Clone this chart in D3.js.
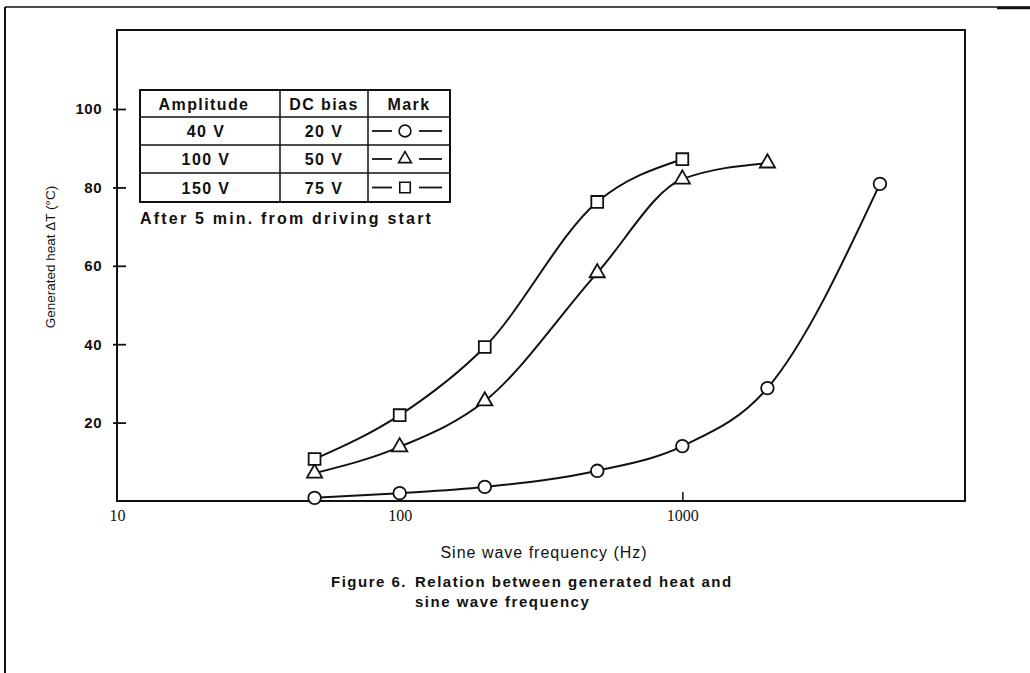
<!DOCTYPE html>
<html>
<head>
<meta charset="utf-8">
<script src="https://cdn.jsdelivr.net/npm/d3@7"></script>
<style>
body{margin:0;background:#fff;}
svg text{fill:#111;}
</style>
</head>
<body>
<svg id="chart" width="1030" height="673"></svg>
<script>
// values
var freqs = [50,100,200,500,1000,2000,5000];
var heat40 = [0.8,2.0,3.6,7.7,14.0,28.8,80.9];   // 40 V amp / 20 V bias  (circles)
var heat100 = [7.1,13.8,25.5,58.2,82.1,86.2];    // 100 V / 50 V (triangles)
var heat150 = [10.7,21.9,39.3,76.3,87.2];        // 150 V / 75 V (squares)
var xTicks = [10,100,1000];
var yTicks = [20,40,60,80,100];
var legendHeader = ["Amplitude","DC bias","Mark"];
var legendAmp = ["40 V","100 V","150 V"];
var legendBias = ["20 V","50 V","75 V"];
var markTypes = ["circle","triangle","square"];

var svg = d3.select('#chart');
var x = d3.scaleLog().domain([10,10000]).range([117,965]);
var y = d3.scaleLinear().domain([0,100]).range([501,109]);

var symbols = {circle:d3.symbolCircle, triangle:d3.symbolTriangle, square:d3.symbolSquare};
var symSize = {circle:125, triangle:100, square:140};

// page border of the scan
svg.append('line').attr('x1',5).attr('x2',1030).attr('y1',7).attr('y2',7)
   .attr('stroke','#111').attr('stroke-width',1.5);
svg.append('line').attr('x1',997).attr('x2',1030).attr('y1',8).attr('y2',8)
   .attr('stroke','#111').attr('stroke-width',2.5);
svg.append('line').attr('x1',5).attr('x2',5).attr('y1',7).attr('y2',673)
   .attr('stroke','#111').attr('stroke-width',2);

// plot frame
svg.append('rect')
   .attr('x',x(10)).attr('y',30)
   .attr('width',x(10000)-x(10)).attr('height',y(0)-30)
   .attr('fill','none').attr('stroke','#111').attr('stroke-width',2);

var yax = svg.append('g').classed('yaxis-group',true)
   .attr('transform',"translate("+x(10)+",0)")
   .call(d3.axisLeft(y).tickValues(yTicks).tickSize(0).tickPadding(15));
yax.select('.domain').remove();
yax.selectAll('.tick line').attr('x1',9).attr('x2',-4).attr('stroke','#111').attr('stroke-width',1.8);
yax.selectAll('.tick text').style('font-family','"Liberation Sans", Arial, sans-serif')
   .style('font-size','15px').style('font-weight','bold').style('letter-spacing','0.5px').attr('fill','#111');

var xax = svg.append('g').classed('xaxis-group',true)
   .attr('transform',"translate(0,"+y(0)+")")
   .call(d3.axisBottom(x).tickValues(xTicks).tickFormat(d3.format('d')).tickSize(0).tickPadding(9));
xax.select('.domain').remove();
xax.selectAll('.tick line').attr('y1',0).attr('y2',function(d){return d==10 ? 0 : -9;})
   .attr('stroke','#111').attr('stroke-width',1.5);
xax.selectAll('.tick text').style('font-family','"Liberation Serif", "Times New Roman", serif')
   .style('font-size','16px').attr('fill','#111');

// axis titles
svg.append('text')
   .attr('transform','translate(50,257) rotate(-90)')
   .attr('text-anchor','middle').attr('dy','0.35em')
   .style('font-family','"Liberation Sans", Arial, sans-serif').style('font-size','13.5px')
   .text('Generated heat \u0394T (\u00b0C)');
svg.append('text')
   .attr('x',544).attr('y',558).attr('text-anchor','middle')
   .style('font-family','"Liberation Sans", Arial, sans-serif').style('font-size','16px')
   .style('letter-spacing','1px')
   .text('Sine wave frequency (Hz)');

// caption
var cap = svg.append('g').style('font-family','"Liberation Sans", Arial, sans-serif')
   .style('font-size','15px').style('font-weight','bold').style('letter-spacing','1.5px');
cap.append('text').attr('x',331).attr('y',587).text('Figure 6.');
cap.append('text').attr('x',415).attr('y',587).text('Relation between generated heat and');
cap.append('text').attr('x',415).attr('y',607).text('sine wave frequency');

// curves
var series = [
  {vals:heat40, mark:'circle'},
  {vals:heat100, mark:'triangle'},
  {vals:heat150, mark:'square'}
];
var line = d3.line().curve(d3.curveMonotoneX)
   .x(function(d){return x(d.f);}).y(function(d){return y(d.v);});

series.forEach(function(s){
  var pts = s.vals.map(function(v,i){return {f:freqs[i], v:v};});
  svg.append('path').datum(pts).attr('d',line)
     .attr('fill','none').attr('stroke','#111').attr('stroke-width',2);
  svg.append('g').selectAll('path').data(pts).enter().append('path')
     .attr('transform',function(d){return "translate("+x(d.f)+","+y(d.v)+")";})
     .attr('d',d3.symbol().type(symbols[s.mark]).size(symSize[s.mark]))
     .attr('fill','#fff').attr('stroke','#111').attr('stroke-width',1.8);
});

// legend table
var tblX = [140,280,368,450];
var tblY = [90,117,145,173,202];
var tbl = svg.append('g');
tbl.append('rect').attr('x',tblX[0]).attr('y',tblY[0])
   .attr('width',tblX[3]-tblX[0]).attr('height',tblY[4]-tblY[0])
   .attr('fill','#fff').attr('stroke','#111').attr('stroke-width',2);
tblY.slice(1,4).forEach(function(yy){
  tbl.append('line').attr('x1',tblX[0]).attr('x2',tblX[3]).attr('y1',yy).attr('y2',yy)
     .attr('stroke','#111').attr('stroke-width',1.5);
});
tblX.slice(1,3).forEach(function(xx){
  tbl.append('line').attr('x1',xx).attr('x2',xx).attr('y1',tblY[0]).attr('y2',tblY[4])
     .attr('stroke','#111').attr('stroke-width',1.5);
});
var tfont = function(t){
  t.style('font-family','"Liberation Sans", Arial, sans-serif').style('font-size','16px')
   .style('font-weight','bold').style('letter-spacing','1.4px').attr('text-anchor','middle');
};
var colMid = function(c){return (tblX[c]+tblX[c+1])/2;};
var rowMid = function(r){return (tblY[r]+tblY[r+1])/2;};
legendHeader.forEach(function(h,c){
  tbl.append('text').attr('x',colMid(c)-(c==0 ? 6 : 0)).attr('y',rowMid(0)+6).call(tfont).text(h);
});
legendAmp.forEach(function(a,i){
  tbl.append('text').attr('x',colMid(0)-4).attr('y',rowMid(i+1)+6).call(tfont).text(a);
  tbl.append('text').attr('x',colMid(1)).attr('y',rowMid(i+1)+6).call(tfont).text(legendBias[i]);
  var cx = colMid(2), cy = rowMid(i+1);
  tbl.append('line').attr('x1',cx-37).attr('x2',cx-17).attr('y1',cy).attr('y2',cy)
     .attr('stroke','#111').attr('stroke-width',1.8);
  tbl.append('line').attr('x1',cx+10).attr('x2',cx+33).attr('y1',cy).attr('y2',cy)
     .attr('stroke','#111').attr('stroke-width',1.8);
  tbl.append('path').attr('transform',"translate("+(cx-4)+","+cy+")")
     .attr('d',d3.symbol().type(symbols[markTypes[i]]).size(markTypes[i]=='triangle' ? 70 : 110))
     .attr('fill','#fff').attr('stroke','#111').attr('stroke-width',1.6);
});

svg.append('text').attr('x',140).attr('y',224)
   .style('font-family','"Liberation Sans", Arial, sans-serif').style('font-size','16px')
   .style('font-weight','bold').style('letter-spacing','2.2px')
   .text('After 5 min. from driving start');
</script>
</body>
</html>
